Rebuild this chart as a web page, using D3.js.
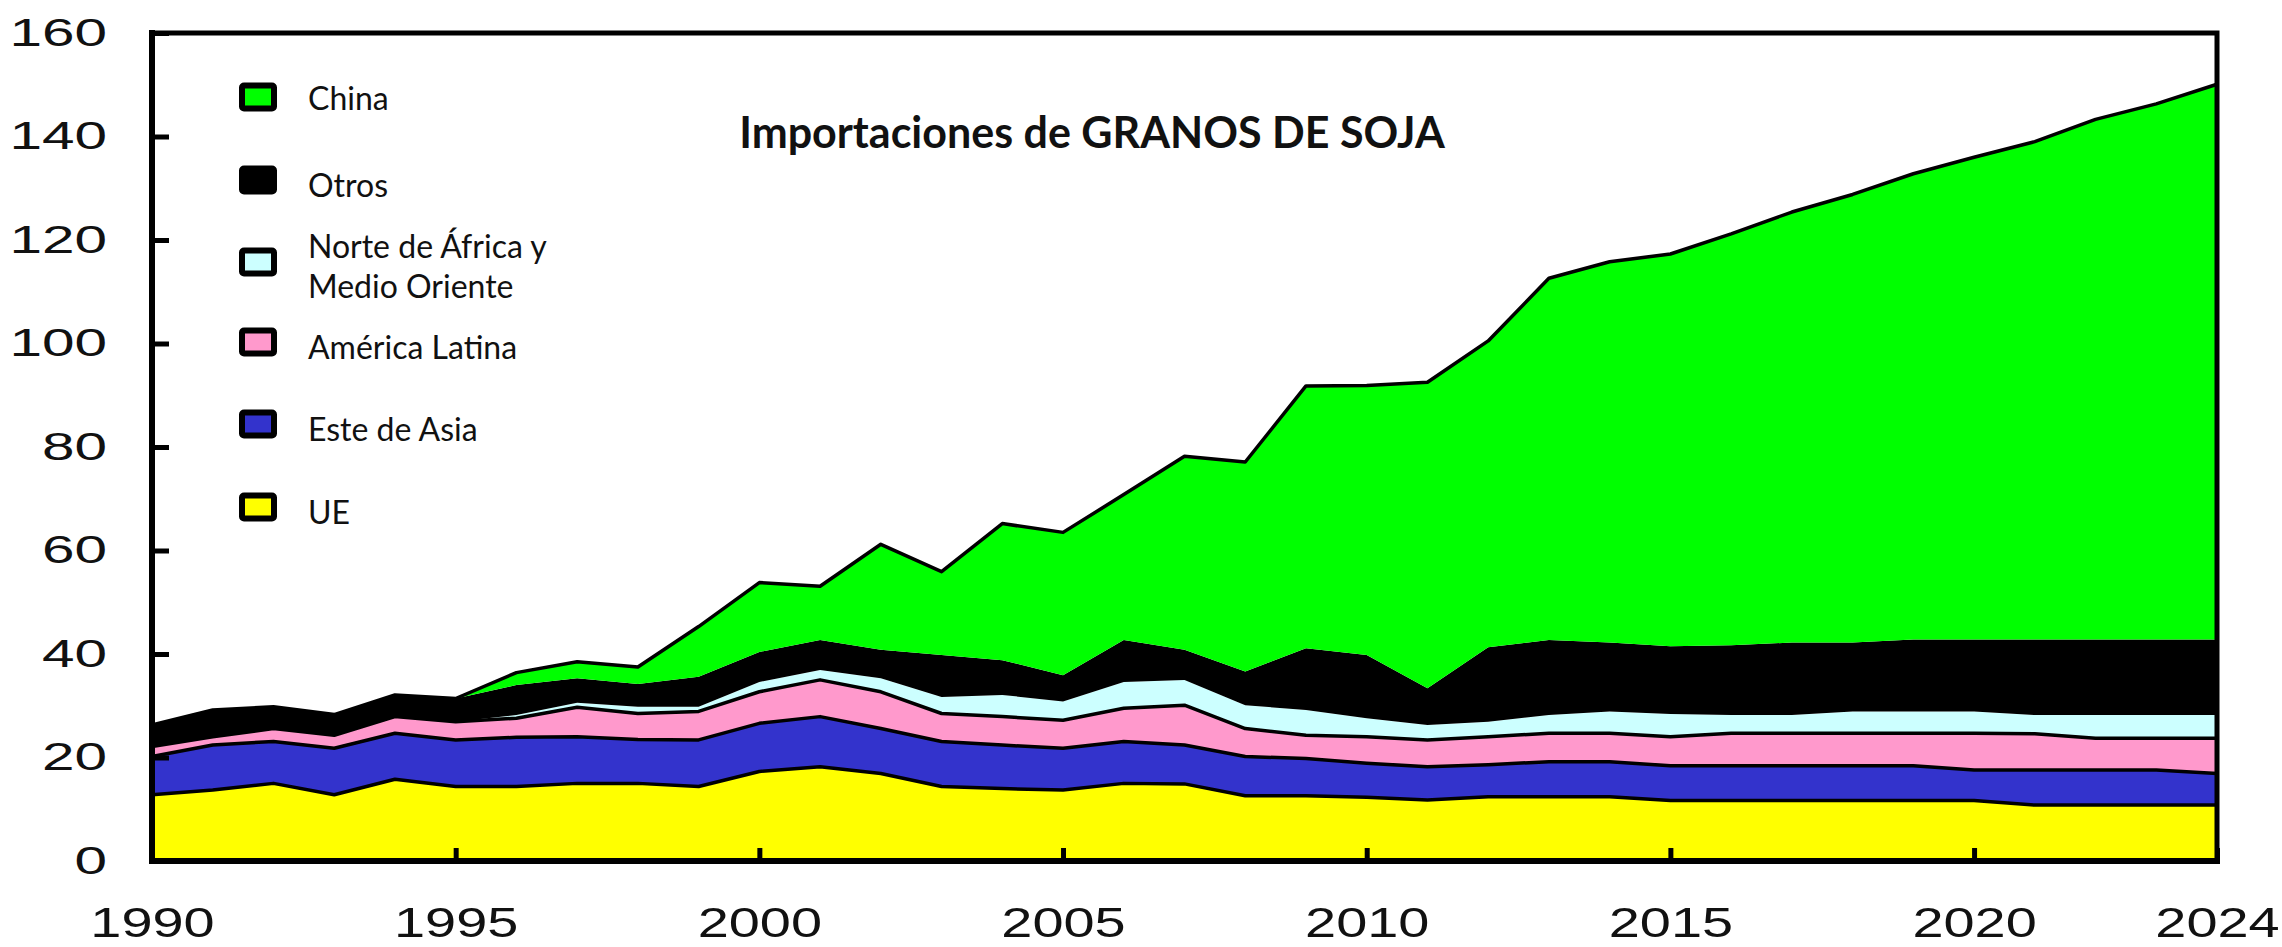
<!DOCTYPE html>
<html>
<head>
<meta charset="utf-8">
<script src="https://cdn.jsdelivr.net/npm/d3@7"></script>
<style>
  body { margin: 0; background: #fff; }
  svg { display: block; }
</style>
</head>
<body>
<svg width="2282" height="947"></svg>
<script>
var width = 2282, height = 947;

// years on the x axis
var years = [1990,1991,1992,1993,1994,1995,1996,1997,1998,1999,
             2000,2001,2002,2003,2004,2005,2006,2007,2008,2009,
             2010,2011,2012,2013,2014,2015,2016,2017,2018,2019,
             2020,2021,2022,2023,2024];

// imports by region (millions of tonnes)
var ue        = [12.8,13.7,15.0,12.8,15.8,14.4,14.4,15.0,15.0,14.4,17.3,18.2,16.9,14.4,14.0,13.7,15.0,14.9,12.6,12.6,12.3,11.8,12.4,12.4,12.4,11.7,11.7,11.7,11.7,11.7,11.7,10.8,10.8,10.8,10.8];
var esteAsia  = [7.4,8.7,8.1,9.0,8.9,9.0,9.5,9.0,8.5,9.0,9.3,9.7,8.7,8.7,8.4,8.1,8.1,7.5,7.6,7.2,6.6,6.4,6.2,6.8,6.8,6.7,6.7,6.7,6.7,6.7,5.9,6.8,6.8,6.8,6.1];
var amLatina  = [1.9,1.6,2.5,2.5,3.2,3.5,3.7,5.7,5.0,5.5,6.1,7.1,7.1,5.4,5.5,5.4,6.4,7.7,5.4,4.5,5.1,5.2,5.4,5.5,5.5,5.6,6.3,6.3,6.3,6.3,7.1,7.0,6.1,6.1,6.8];
var norteAfr  = [0,0,0,0,0,0,0.6,0.9,1.3,0.9,1.9,1.9,2.6,3.2,4.2,3.6,5.1,4.9,4.5,4.9,3.6,2.9,2.9,3.5,4.2,4.4,3.5,3.5,4.2,4.2,4.2,3.6,4.5,4.5,4.5];
var otros     = [4.2,5.2,4.2,4.0,4.2,4.5,5.8,4.7,4.4,5.8,5.8,5.8,5.5,8.1,6.7,5.1,8.1,5.8,6.5,11.9,12.2,7.1,14.4,14.5,13.3,13.1,13.5,14.0,13.3,13.9,13.9,14.6,14.6,14.6,14.6];
var china     = [0,0,0,0,0,0,2.4,3.2,3.3,9.7,13.4,10.4,20.4,16.1,26.4,27.6,28.1,37.4,40.5,50.7,52.1,59.1,59.2,69.9,73.6,75.8,79.5,83.2,86.6,90.0,93.2,96.2,100.5,103.5,107.3];

var keys = ['ue', 'esteAsia', 'amLatina', 'norteAfr', 'otros', 'china'];
var colors = ['#ffff00', '#3333cc', '#ff99cc', '#ccffff', '#000000', '#00ff00'];
var outlined = ['ue', 'esteAsia', 'amLatina', 'china'];

// legend, top to bottom
var legendKeys = ['china', 'otros', 'norteAfr', 'amLatina', 'esteAsia', 'ue'];
var legendLabels = [['China'], ['Otros'], ['Norte de África y', 'Medio Oriente'], ['América Latina'], ['Este de Asia'], ['UE']];

var yTicks = [0, 20, 40, 60, 80, 100, 120, 140, 160];
var xTicks = [1990, 1995, 2000, 2005, 2010, 2015, 2020, 2024];
var title = 'Importaciones de GRANOS DE SOJA';

var table = years.map(function(yr, i) {
  return { year: yr, ue: ue[i], esteAsia: esteAsia[i], amLatina: amLatina[i],
           norteAfr: norteAfr[i], otros: otros[i], china: china[i] };
});

var svg = d3.select('svg');
svg.append('rect').attr('width', width).attr('height', height).attr('fill', 'white');

var x = d3.scaleLinear().domain([1990, 2024]).range([152, 2217]);
var y = d3.scaleLinear().domain([0, 160]).range([861, 33]);

var color = d3.scaleOrdinal().domain(keys).range(colors);

var series = d3.stack().keys(keys)(table);

var area = d3.area()
  .x(function(d) { return x(d.data.year); })
  .y0(function(d) { return y(d[0]); })
  .y1(function(d) { return y(d[1]); });

var topLine = d3.line()
  .x(function(d) { return x(d.data.year); })
  .y(function(d) { return y(d[1]); });

var gLayers = svg.append('g');

gLayers.selectAll('.layer')
  .data(series)
  .enter()
  .append('path')
  .attr('class', 'layer')
  .attr('d', area)
  .attr('fill', function(d) { return color(d.key); });

gLayers.selectAll('.edge')
  .data(series.filter(function(s) { return outlined.indexOf(s.key) >= 0; }))
  .enter()
  .append('path')
  .attr('class', 'edge')
  .attr('d', topLine)
  .attr('fill', 'none')
  .attr('stroke', 'black')
  .attr('stroke-width', 3.5)
  .attr('stroke-linejoin', 'round');

// y axis: ticks point inwards, labels stretched like the original
var yAxis = svg.append('g')
  .attr('transform', 'translate(' + x(1990) + ',0)')
  .call(d3.axisLeft(y).tickValues(yTicks).tickSize(-17).tickPadding(45));
yAxis.select('.domain').remove();
yAxis.selectAll('line').attr('stroke', 'black').attr('stroke-width', 5);
yAxis.selectAll('text')
  .attr('x', 0)
  .attr('transform', 'translate(-45,0) scale(1.5,1)')
  .style('font-family', '"Liberation Sans", Arial, sans-serif')
  .style('font-size', '39px')
  .attr('fill', '#111');

var xAxis = svg.append('g')
  .attr('transform', 'translate(0,' + y(0) + ')')
  .call(d3.axisBottom(x).tickValues(xTicks).tickFormat(d3.format('d')).tickSize(-13).tickPadding(45));
xAxis.select('.domain').remove();
xAxis.selectAll('line').attr('stroke', 'black').attr('stroke-width', 5);
xAxis.selectAll('text')
  .attr('transform', 'scale(1.3,1)')
  .style('font-family', '"Liberation Sans", Arial, sans-serif')
  .style('font-size', '43px')
  .attr('fill', '#111');

// plot frame
var frame = svg.append('g').attr('fill', 'none').attr('stroke', 'black');
frame.append('path')
  .attr('d', 'M' + x(1990) + ',' + y(160) + 'H' + x(2024) + 'V' + y(0))
  .attr('stroke-width', 5);
frame.append('path')
  .attr('d', 'M' + x(1990) + ',' + y(160) + 'V' + y(0) + 'H' + x(2024))
  .attr('stroke-width', 6)
  .attr('stroke-linecap', 'square');

// legend
var legendY = [97, 180, 262, 342, 424, 507];
var gLegend = svg.append('g');
legendKeys.forEach(function(k, i) {
  gLegend.append('rect')
    .attr('x', 242).attr('y', legendY[i] - 11.5)
    .attr('width', 32).attr('height', 23)
    .attr('rx', 2)
    .attr('fill', color(k))
    .attr('stroke', 'black')
    .attr('stroke-width', 6);
  var lines = legendLabels[i];
  var t = gLegend.append('text')
    .attr('x', 308)
    .style('font-family', 'Lato, "Open Sans", sans-serif')
    .style('font-size', '32px')
    .attr('fill', '#111');
  if (lines.length == 1) {
    t.attr('y', legendY[i] + (i == 0 ? 13 : 17)).text(lines[0]);
  } else {
    t.append('tspan').attr('x', 308).attr('y', legendY[i] - 4).text(lines[0]);
    t.append('tspan').attr('x', 308).attr('y', legendY[i] + 36).text(lines[1]);
  }
});

svg.append('text')
  .attr('x', 1092).attr('y', 148)
  .attr('text-anchor', 'middle')
  .style('font-family', 'Lato, "Open Sans", sans-serif')
  .style('font-weight', 'bold')
  .style('font-size', '43px')
  .attr('fill', '#111')
  .text(title);
</script>
</body>
</html>
